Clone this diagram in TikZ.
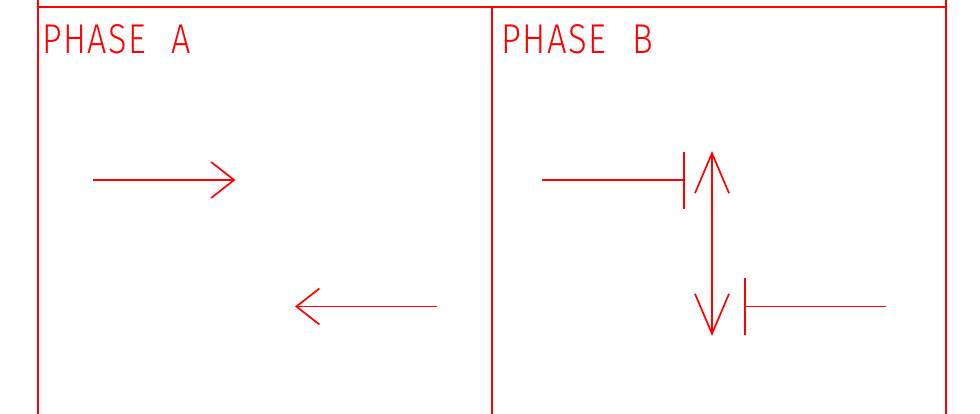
\documentclass[tikz,border=0pt]{standalone}
\usepackage{fontspec}
\usepackage{graphicx}
\IfFontExistsTF{Fira Sans Light}{\setmainfont{Fira Sans Light}}{\setmainfont{Liberation Sans}}
\usetikzlibrary{arrows.meta}
\newcommand{\phasetitle}[1]{{\addfontfeature{LetterSpace=4}PHASE}\hspace{0.75em}#1}
\begin{document}
\begin{tikzpicture}[x=1pt,y=-1pt]
\tikzset{
  frame/.style={draw=red, line width=1.8pt},
  wire/.style={draw=red, line width=1.7pt},
  headA/.style={-{Straight Barb[length=23pt,width=36pt]}},
  headV/.style={{Straight Barb[length=40pt,width=34pt]}-{Straight Barb[length=40pt,width=34pt]}},
  label/.style={anchor=south west, inner sep=0pt, text=red}
}
\useasboundingbox (0,0) rectangle (980,414);
% frame
\coordinate (lt) at (38,0);
\coordinate (lb) at (38,414);
\coordinate (rt) at (946,0);
\coordinate (rb) at (946,414);
\coordinate (mt) at (492,7);
\coordinate (mb) at (492,414);
\coordinate (hl) at (38,7);
\coordinate (hr) at (946,7);
\draw[frame] (lt) -- (lb);
\draw[frame] (rt) -- (rb);
\draw[frame] (mt) -- (mb);
\draw[frame] (hl) -- (hr);
% titles
\node[label] (ta) at (42.5,54.5) {\resizebox{148pt}{29pt}{\phasetitle{A}}};
\node[label] (tb) at (501.5,54.5) {\resizebox{151pt}{29pt}{\phasetitle{B}}};
% phase A arrows
\coordinate (a1s) at (93,180);
\coordinate (a1e) at (235.5,180);
\coordinate (a2s) at (437,306.5);
\coordinate (a2e) at (295,306.5);
\draw[wire,headA] (a1s) -- (a1e);
\draw[wire,headA] (a2s) -- (a2e);
% phase B
\coordinate (b1s) at (542,180);
\coordinate (b1e) at (684,180);
\coordinate (t1u) at (684,152);
\coordinate (t1d) at (684,209);
\draw[wire] (b1s) -- (b1e);
\draw[wire] (t1u) -- (t1d);
\coordinate (vt) at (712,151);
\coordinate (vb) at (712,336);
\draw[wire,headV] (vb) -- (vt);
\coordinate (b2s) at (886,306.5);
\coordinate (b2e) at (745,306.5);
\coordinate (t2u) at (745,278);
\coordinate (t2d) at (745,335);
\draw[wire] (b2s) -- (b2e);
\draw[wire] (t2u) -- (t2d);
\end{tikzpicture}
\end{document}
